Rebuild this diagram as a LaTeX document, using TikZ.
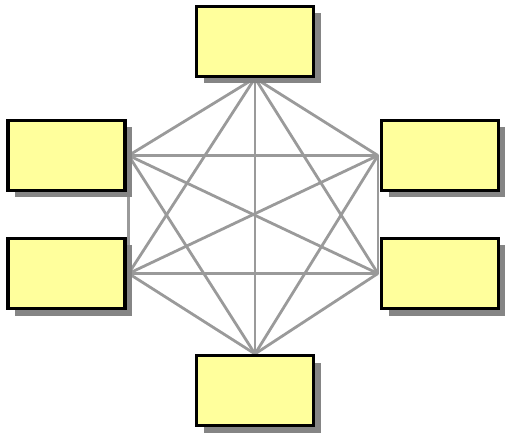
\documentclass[tikz,border=0pt]{standalone}
\usetikzlibrary{backgrounds}
\begin{document}
\begin{tikzpicture}[x=1pt,y=-1pt,
  box/.style={draw=black, line width=3.2pt, fill=boxfill, minimum width=117pt, minimum height=70pt, inner sep=0pt,
    preaction={fill=shadowgray, draw=none, transform canvas={shift={(7pt,-7pt)}}}},
  link/.style={draw=linkgray, line width=2.8pt}]
\definecolor{boxfill}{HTML}{FFFF9C}
\definecolor{shadowgray}{HTML}{858585}
\definecolor{linkgray}{HTML}{9A9A9A}
\useasboundingbox (0,0) rectangle (505,435);
\node[box] (t) at (255,41.5) {};
\node[box] (lt) at (66.5,155.5) {};
\node[box] (lb) at (66.5,273.5) {};
\node[box] (rt) at (440,155.5) {};
\node[box] (rb) at (440,273.5) {};
\node[box] (b) at (255,390.5) {};
\begin{scope}[on background layer]
\coordinate (pt) at (t.south);
\coordinate (pb) at (b.north);
\coordinate (plt) at ([xshift=2pt]lt.east);
\coordinate (plb) at ([xshift=2pt]lb.east);
\coordinate (prt) at ([xshift=-2pt]rt.west);
\coordinate (prb) at ([xshift=-2pt]rb.west);
\foreach \a/\bb in {pt/pb,pt/plt,pt/plb,pt/prt,pt/prb,pb/plt,pb/plb,pb/prt,pb/prb,plt/plb,plt/prt,plt/prb,plb/prt,plb/prb,prt/prb}
  \draw[link] (\a) -- (\bb);
\end{scope}
\end{tikzpicture}
\end{document}
